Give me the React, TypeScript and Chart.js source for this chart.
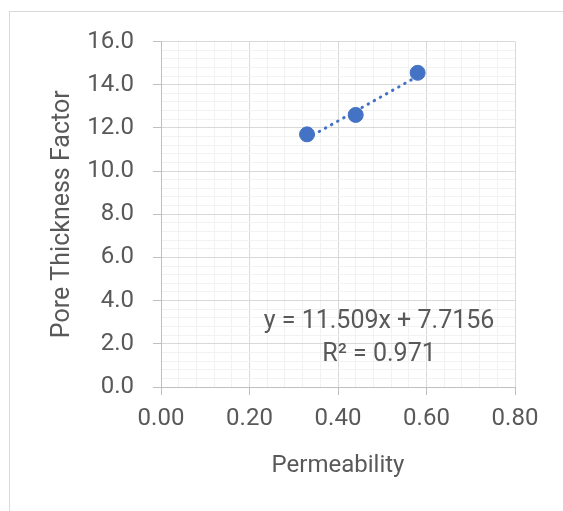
import React, { useEffect, useRef } from 'react';
import { Chart, registerables } from 'chart.js';

Chart.register(...registerables);

// ---- data ----
const permeability = [0.33, 0.44, 0.58];
const poreThicknessFactor = [11.7, 12.6, 14.55];
const trendSlope = 11.509;
const trendIntercept = 7.7156;
const equationLines = ['y = 11.509x + 7.7156', 'R² = 0.971'];
const xTitle = 'Permeability';
const yTitle = 'Pore Thickness Factor';
const xRange = [0, 0.8];
const yRange = [0, 16];
const xMajorStep = 0.2;
const xMinorStep = 0.04;
const yMajorStep = 2;
const yMinorStep = 0.4;
const labelAnchor = [0.4927, 3.02]; // data-space anchor of the trendline label

const FONT = 'Roboto';
const TEXT = '#595959';
const BLUE = '#4472C4';

const isMajor = (v: number, step: number) => Math.abs(v / step - Math.round(v / step)) < 1e-6;

export default function App() {
  const ref = useRef<HTMLCanvasElement | null>(null);

  useEffect(() => {
    if (!ref.current) return;
    const points = permeability.map((x, i) => ({ x, y: poreThicknessFactor[i] }));
    const xMin = Math.min(...permeability);
    const xMax = Math.max(...permeability);
    const trend = [
      { x: xMin, y: trendSlope * xMin + trendIntercept },
      { x: xMax, y: trendSlope * xMax + trendIntercept },
    ];

    const labelPlugin = {
      id: 'trendLabel',
      afterDatasetsDraw(chart: any) {
        const { ctx, scales } = chart;
        const px = scales.x.getPixelForValue(labelAnchor[0]);
        const py = scales.y.getPixelForValue(labelAnchor[1]);
        ctx.save();
        ctx.font = `25px ${FONT}`;
        ctx.fillStyle = TEXT;
        ctx.textAlign = 'center';
        ctx.textBaseline = 'middle';
        equationLines.forEach((l, i) => ctx.fillText(l, px, py + i * 33));
        ctx.restore();
      },
    };

    const gridFor = (step: number) => ({
      color: (c: any) => (isMajor(c.tick.value, step) ? '#d9d9d9' : '#f2f2f2'),
      tickColor: (c: any) => (isMajor(c.tick.value, step) ? '#bfbfbf' : 'rgba(0,0,0,0)'),
      tickLength: 8,
      lineWidth: 1,
      drawTicks: true,
    });

    const chart = new Chart(ref.current, {
      type: 'scatter',
      data: {
        datasets: [
          {
            label: 'data',
            data: points,
            backgroundColor: BLUE,
            borderColor: BLUE,
            pointRadius: 7.5,
            pointHoverRadius: 7.5,
            order: 0,
          },
          {
            label: 'trend',
            data: trend,
            showLine: true,
            borderColor: BLUE,
            borderWidth: 3,
            borderDash: [0.5, 6.5],
            borderCapStyle: 'round',
            pointRadius: 0,
            fill: false,
            order: 1,
          } as any,
        ],
      },
      options: {
        animation: false,
        responsive: false,
        devicePixelRatio: 1,
        layout: { padding: { left: 0, right: 48, top: 41.5, bottom: 0 } },
        plugins: { legend: { display: false }, tooltip: { enabled: false } },
        scales: {
          x: {
            type: 'linear',
            min: xRange[0],
            max: xRange[1],
            afterFit: (s: any) => { s.height = 124; },
            ticks: {
              stepSize: xMinorStep,
              maxTicksLimit: 1000,
              autoSkip: false,
              maxRotation: 0,
              minRotation: 0,
              padding: 10,
              color: TEXT,
              font: { family: FONT, size: 24 },
              callback: (v: any) => (isMajor(Number(v), xMajorStep) ? Number(v).toFixed(2) : ''),
            },
            grid: gridFor(xMajorStep),
            border: { color: '#bfbfbf', width: 1 },
            title: {
              display: true,
              text: xTitle,
              color: TEXT,
              font: { family: FONT, size: 24 },
              padding: { top: 0, bottom: 31 },
            },
          },
          y: {
            type: 'linear',
            min: yRange[0],
            max: yRange[1],
            afterFit: (s: any) => { s.width = 161; },
            ticks: {
              stepSize: yMinorStep,
              maxTicksLimit: 1000,
              autoSkip: false,
              padding: 19,
              color: TEXT,
              font: { family: FONT, size: 24 },
              callback: (v: any) => (isMajor(Number(v), yMajorStep) ? Number(v).toFixed(1) : ''),
            },
            grid: gridFor(yMajorStep),
            border: { color: '#bfbfbf', width: 1 },
            title: {
              display: true,
              text: yTitle,
              color: TEXT,
              font: { family: FONT, size: 25 },
              padding: { top: 47.5, bottom: 0 },
            },
          },
        },
      },
      plugins: [labelPlugin],
    } as any);

    return () => chart.destroy();
  }, []);

  return (
    <div style={{ position: 'fixed', left: 0, top: 0, width: 563, height: 511, background: '#fff', overflow: 'hidden' }}>
      <div
        style={{
          position: 'absolute',
          left: 9,
          top: 11,
          width: 700,
          height: 700,
          borderLeft: '1px solid #d9d9d9',
          borderTop: '1px solid #d9d9d9',
        }}
      />
      <canvas ref={ref} width={563} height={511} style={{ position: 'absolute', left: 0, top: 0 }} />
    </div>
  );
}
